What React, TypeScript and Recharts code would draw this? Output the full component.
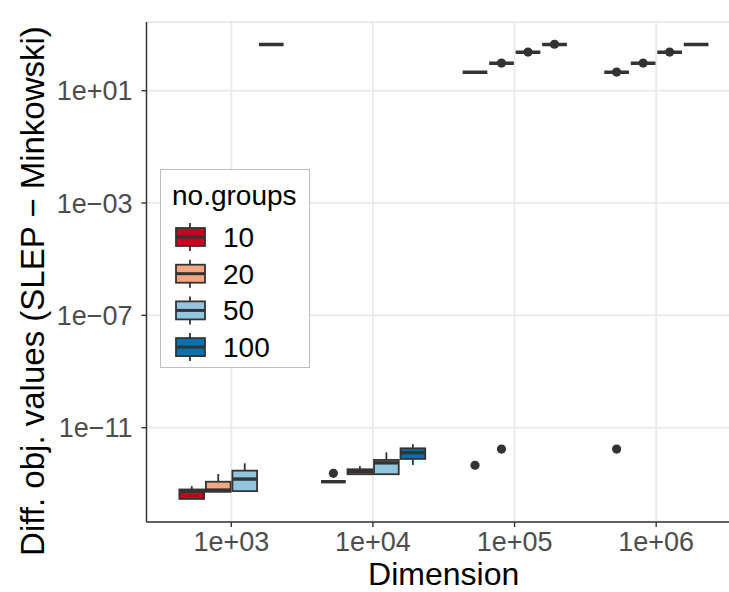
import React from "react";
import { ComposedChart, Bar, XAxis, YAxis, CartesianGrid } from "recharts";

const dims = ["1e+03", "1e+04", "1e+05", "1e+06"];
const groups = ["10", "20", "50", "100"];
const groupColors = ["#CA0020", "#F4A582", "#92C5DE", "#0571B0"];

// [lower whisker, q1, median, q3, upper whisker] for each dimension
const stats10 = [
  [2.9e-14, 2.9e-14, 5.5e-14, 6.3e-14, 8.3e-14],
  [1.19e-13, 1.19e-13, 1.19e-13, 1.19e-13, 1.19e-13],
  [45.2, 45.2, 45.2, 45.2, 45.2],
  [45.2, 45.2, 45.2, 45.2, 45.2],
];
const stats20 = [
  [5.2e-14, 5.2e-14, 6.0e-14, 1.19e-13, 2.24e-13],
  [2.2e-13, 2.2e-13, 2.7e-13, 3.3e-13, 4.3e-13],
  [94.6, 94.6, 94.6, 94.6, 94.6],
  [94.6, 94.6, 94.6, 94.6, 94.6],
];
const stats50 = [
  [5.5e-14, 5.5e-14, 1.48e-13, 2.95e-13, 5.4e-13],
  [2.1e-13, 2.2e-13, 5.6e-13, 7.1e-13, 1.32e-12],
  [233, 233, 233, 233, 233],
  [233, 233, 233, 233, 233],
];
const stats100 = [
  [445, 445, 445, 445, 445],
  [4.7e-13, 7.7e-13, 1.29e-12, 1.84e-12, 2.6e-12],
  [445, 445, 445, 445, 445],
  [445, 445, 445, 445, 445],
];

const outliers10 = [[], [2.37e-13], [4.6e-13], [46.2, 1.73e-12]];
const outliers20 = [[], [], [96.5, 1.73e-12], [96.5]];
const outliers50 = [[], [], [237], [237]];
const outliers100 = [[], [], [452], []];

const yTicks = [1e-11, 1e-7, 1e-3, 10];
const yDomain = [Math.pow(10, -14.359), Math.pow(10, 3.447)];

const allStats = [stats10, stats20, stats50, stats100];
const allOutliers = [outliers10, outliers20, outliers50, outliers100];

const chartData = dims.map((dim, i) => {
  const row: any = { dim };
  groups.forEach((g, gi) => {
    const s = allStats[gi][i];
    const o = allOutliers[gi][i];
    const vals = [...s, ...o];
    row["range" + gi] = [Math.min(...vals), Math.max(...vals)];
    row["stats" + gi] = s;
    row["out" + gi] = o;
  });
  return row;
});

const FONT = "'Liberation Sans', Arial, Helvetica, sans-serif";
const INK = "#333333";

function sciLabel(v: number) {
  const e = Math.round(Math.log10(v));
  const sign = e < 0 ? "\u2212" : "+";
  const a = Math.abs(e);
  return `1e${sign}${a < 10 ? "0" + a : a}`;
}

function makeBoxShape(gi: number) {
  return (props: any) => {
    const { x, y, width, height, payload } = props;
    const [lo, hi] = payload["range" + gi];
    const s: number[] = payload["stats" + gi];
    const outs: number[] = payload["out" + gi];
    const span = Math.log10(hi) - Math.log10(lo);
    // the bar spans lo..hi on the log scale, place the rest in between
    const py = (v: number) =>
      span === 0 ? y : y + (height * (Math.log10(hi) - Math.log10(v))) / span;
    const cx = x + width / 2;
    const [wl, q1, med, q3, wu] = s.map(py);
    return (
      <g>
        <line x1={cx} x2={cx} y1={wu} y2={q3} stroke={INK} strokeWidth={1.8} />
        <line x1={cx} x2={cx} y1={q1} y2={wl} stroke={INK} strokeWidth={1.8} />
        <rect
          x={x + 0.9}
          y={q3}
          width={width - 1.8}
          height={Math.max(q1 - q3, 0)}
          fill={groupColors[gi]}
          stroke={INK}
          strokeWidth={1.8}
        />
        <line x1={x + 0.9} x2={x + width - 0.9} y1={med} y2={med} stroke={INK} strokeWidth={3.4} />
        {outs.map((v, k) => (
          <circle key={k} cx={cx} cy={py(v)} r={4.6} fill={INK} />
        ))}
      </g>
    );
  };
}

function LegendBox() {
  return (
    <div
      style={{
        position: "absolute",
        left: 160,
        top: 169,
        width: 148,
        height: 197,
        border: "1.7px solid #BEBEBE",
        background: "#FFFFFF",
      }}
    >
      <svg width={148} height={197} style={{ display: "block" }}>
        <text x={11} y={35} fontSize={28} fontFamily={FONT} fill="#000">
          no.groups
        </text>
        {groups.map((g, i) => {
          const cy = 67 + i * 36.7;
          return (
            <g key={g}>
              <line x1={29} x2={29} y1={cy - 14} y2={cy + 14} stroke={INK} strokeWidth={1.8} />
              <rect x={15} y={cy - 9} width={29} height={18} fill={groupColors[i]} stroke={INK} strokeWidth={1.8} />
              <line x1={15} x2={44} y1={cy} y2={cy} stroke={INK} strokeWidth={3} />
              <text x={62} y={cy + 10} fontSize={28} fontFamily={FONT} fill="#000">
                {g}
              </text>
            </g>
          );
        })}
      </svg>
    </div>
  );
}

export default function App() {
  return (
    <div
      style={{
        position: "fixed",
        left: 0,
        top: 0,
        width: 729,
        height: 592,
        overflow: "hidden",
        background: "#FFFFFF",
      }}
    >
      <ComposedChart
        width={760}
        height={592}
        data={chartData}
        margin={{ top: 22, right: 19, bottom: 0, left: 0 }}
        barSize={26.5}
        barGap={0}
      >
        <CartesianGrid stroke="#EBEBEB" strokeWidth={2} />
        <XAxis
          dataKey="dim"
          height={70}
          padding={{ left: 14, right: 14 }}
          tick={{ fill: "#4D4D4D", fontSize: 27, fontFamily: FONT }}
          tickLine={{ stroke: INK, strokeWidth: 1.4 }}
          axisLine={{ stroke: INK, strokeWidth: 1.4 }}
          tickSize={5}
          tickMargin={5}
          interval={0}
        />
        <XAxis
          xAxisId="top"
          dataKey="dim"
          orientation="top"
          height={0}
          tick={false}
          tickLine={false}
          axisLine={{ stroke: INK, strokeWidth: 1.4 }}
        />
        <YAxis
          type="number"
          scale="log"
          domain={yDomain}
          allowDataOverflow
          ticks={yTicks}
          width={146.5}
          tickFormatter={sciLabel}
          tick={{ fill: "#4D4D4D", fontSize: 27, fontFamily: FONT }}
          tickLine={{ stroke: INK, strokeWidth: 1.4 }}
          axisLine={{ stroke: INK, strokeWidth: 1.4 }}
          tickSize={5}
          tickMargin={9}
        />
        {groups.map((g, gi) => (
          <Bar
            key={g}
            name={g}
            dataKey={"range" + gi}
            fill={groupColors[gi]}
            shape={makeBoxShape(gi)}
            isAnimationActive={false}
          />
        ))}
      </ComposedChart>
      <svg
        width={729}
        height={592}
        style={{ position: "absolute", left: 0, top: 0, pointerEvents: "none" }}
      >
        <text
          transform="translate(43.5,291) rotate(-90)"
          textAnchor="middle"
          fontSize={33}
          fontFamily={FONT}
          fill="#000"
        >
          Diff. obj. values (SLEP {"\u2212"} Minkowski)
        </text>
        <text x={443.7} y={585} textAnchor="middle" fontSize={32} fontFamily={FONT} fill="#000">
          Dimension
        </text>
      </svg>
      <LegendBox />
    </div>
  );
}
